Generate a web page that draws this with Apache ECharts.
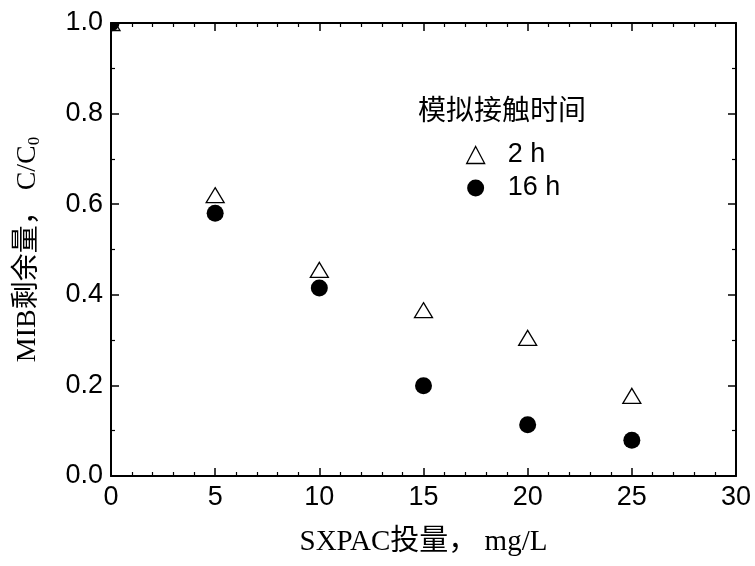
<!DOCTYPE html>
<html>
<head>
<meta charset="utf-8">
<script src="https://cdn.jsdelivr.net/npm/echarts@6/dist/echarts.min.js"></script>
<style>html,body{margin:0;padding:0;background:#fff}#c{width:755px;height:566px}</style>
</head>
<body>
<div id="c"></div>
<script>
const xDose = [0, 5, 10, 15, 20, 25];
const y2h = [1.0, 0.62, 0.455, 0.366, 0.305, 0.177];
const y16h = [1.0, 0.58, 0.415, 0.199, 0.113, 0.079];
const seriesNames = ['2 h', '16 h'];
const legendTitle = '模拟接触时间';
const xName = 'SXPAC投量， mg/L';
const yNameMain = 'MIB剩余量， C/C';
const yNameSub = '0';

const chart = echarts.init(document.getElementById('c'));
const numFont = 'Liberation Sans, Arial, sans-serif';
const nameFont = '"Liberation Serif", "Noto Sans CJK SC", serif';

const baseAxis = {
  axisLine: {show: true, onZero: false, lineStyle: {color: '#000', width: 2}},
  axisTick: {show: true, inside: true, length: 8, lineStyle: {color: '#000', width: 1.5}},
  minorTick: {show: true, splitNumber: 5, length: 4, lineStyle: {color: '#000', width: 1.2}},
  splitLine: {show: false}
};

const triStyle = {color: '#fff', borderColor: '#000', borderWidth: 1.3};
const dotStyle = {color: '#000'};

function triangleItem(params, api) {
  const p = api.coord([api.value(0), api.value(1)]);
  const w = 9, h = 7.5;
  return {
    type: 'polygon',
    shape: {points: [[p[0], p[1] - h], [p[0] + w, p[1] + h], [p[0] - w, p[1] + h]]},
    style: {fill: triStyle.color, stroke: triStyle.borderColor, lineWidth: triStyle.borderWidth}
  };
}
function circleItem(params, api) {
  const p = api.coord([api.value(0), api.value(1)]);
  return {
    type: 'circle',
    shape: {cx: p[0], cy: p[1], r: 8.5},
    style: {fill: dotStyle.color}
  };
}

chart.setOption({
  backgroundColor: '#fff',
  animation: false,
  title: {
    text: legendTitle, left: 413, top: 90,
    textStyle: {fontFamily: '"Noto Sans CJK SC", sans-serif', fontSize: 28, fontWeight: 'normal', color: '#000'}
  },
  legend: {
    orient: 'vertical', left: 466, top: 141, padding: 0, itemGap: 5, itemWidth: 18, itemHeight: 17,
    textStyle: {fontFamily: numFont, fontSize: 27, lineHeight: 28, color: '#000', padding: [0, 0, 0, 18]},
    data: [
      {name: seriesNames[0], icon: 'triangle', itemStyle: triStyle},
      {name: seriesNames[1], icon: 'circle', itemStyle: dotStyle}
    ]
  },
  grid: {left: 111, right: 19, top: 23, bottom: 90},
  xAxis: [
    Object.assign({}, baseAxis, {
      type: 'value', min: 0, max: 30, interval: 5, position: 'bottom',
      minorTick: Object.assign({}, baseAxis.minorTick, {splitNumber: 5}),
      axisLabel: {fontFamily: numFont, fontSize: 27, color: '#000', margin: 8},
      name: xName, nameLocation: 'middle', nameGap: 52,
      nameTextStyle: {fontFamily: nameFont, fontSize: 29, color: '#000'}
    }),
    Object.assign({}, baseAxis, {
      type: 'value', min: 0, max: 30, interval: 5, position: 'top',
      axisLabel: {show: false}
    })
  ],
  yAxis: [
    Object.assign({}, baseAxis, {
      type: 'value', min: 0, max: 1.0, interval: 0.2, position: 'left',
      minorTick: Object.assign({}, baseAxis.minorTick, {splitNumber: 2}),
      axisLabel: {fontFamily: numFont, fontSize: 27, color: '#000', margin: 8,
        formatter: v => v.toFixed(1)},
      name: '{m|' + yNameMain + '}{s|' + yNameSub + '}',
      nameLocation: 'middle', nameGap: 68, nameRotate: 90,
      nameTextStyle: {
        color: '#000',
        rich: {
          m: {fontFamily: nameFont, fontSize: 28, color: '#000'},
          s: {fontFamily: nameFont, fontSize: 17, color: '#000', verticalAlign: 'bottom', padding: [13, 0, 0, 0]}
        }
      }
    }),
    Object.assign({}, baseAxis, {
      type: 'value', min: 0, max: 1.0, interval: 0.2, position: 'right',
      minorTick: Object.assign({}, baseAxis.minorTick, {splitNumber: 2}),
      axisLabel: {show: false}
    })
  ],
  series: [
    {
      name: seriesNames[0], type: 'custom', renderItem: triangleItem, clip: true,
      itemStyle: triStyle, encode: {x: 0, y: 1},
      data: xDose.map((x, i) => [x, y2h[i]]), z: 2
    },
    {
      name: seriesNames[1], type: 'custom', renderItem: circleItem, clip: true,
      itemStyle: dotStyle, encode: {x: 0, y: 1},
      data: xDose.map((x, i) => [x, y16h[i]]), z: 3
    }
  ]
});
</script>
</body>
</html>
